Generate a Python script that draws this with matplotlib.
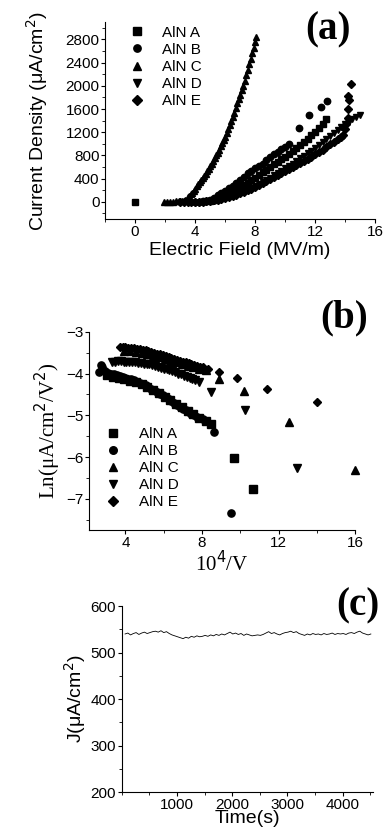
import numpy as np
import matplotlib
matplotlib.use("Agg")
import matplotlib.pyplot as plt
from matplotlib.ticker import MultipleLocator

plt.rcParams['font.family'] = ['Liberation Sans', 'DejaVu Sans']

# ---- panel (a): current density vs electric field ----
a_A_x = [0.0, 5.0, 5.25, 5.5, 5.75, 6.0, 6.25, 6.5, 6.75, 7.0, 7.25, 7.5, 7.75, 8.0, 8.25, 8.5, 8.75,
         9.0, 9.25, 9.5, 9.75, 10.0, 10.25, 10.5, 10.75, 11.0, 11.25, 11.5, 11.75, 12.0, 12.25, 12.5, 12.75]
a_A_y = [0, 20, 35, 50, 75, 100, 135, 170, 210, 250, 290, 330, 375, 420, 465, 510, 555,
         600, 645, 690, 735, 780, 830, 880, 930, 980, 1035, 1090, 1145, 1200, 1270, 1350, 1420]

a_B_x = [4.0, 4.25, 4.5, 4.75, 5.0, 5.25, 5.5, 5.75, 6.0, 6.25, 6.5, 6.75, 7.0, 7.25, 7.5, 7.75,
         8.0, 8.25, 8.5, 8.75, 9.0, 9.25, 9.5, 9.75, 10.0, 10.25, 10.9, 11.6, 12.4, 12.8]
a_B_y = [0, 3, 10, 22, 40, 70, 110, 150, 190, 235, 280, 330, 380, 435, 490, 535,
         580, 620, 660, 720, 780, 820, 860, 905, 950, 1000, 1270, 1490, 1640, 1740]

a_C_x = [1.9, 2.1, 2.3, 2.5, 2.7, 2.9, 3.1, 3.3, 3.5, 3.6, 3.7, 3.8, 3.9, 4.0, 4.1, 4.2, 4.3, 4.4,
         4.5, 4.6, 4.7, 4.8, 4.9, 5.0, 5.1, 5.2, 5.3, 5.4, 5.5, 5.6, 5.7, 5.8, 5.9, 6.0, 6.1, 6.2,
         6.3, 6.4, 6.5, 6.6, 6.7, 6.8, 6.9, 7.0, 7.1, 7.2, 7.3, 7.4, 7.5, 7.6, 7.7, 7.8, 7.9, 8.0, 8.05]
a_C_y = [0, 0, 0, 5, 8, 12, 20, 40, 80, 105, 130, 160, 195, 230, 265, 300, 335, 370,
         405, 440, 485, 530, 570, 610, 655, 700, 750, 800, 850, 900, 955, 1010, 1065, 1120, 1185, 1250,
         1320, 1390, 1465, 1540, 1620, 1700, 1775, 1850, 1925, 2000, 2090, 2180, 2275, 2370, 2465, 2560, 2650, 2760, 2840]

a_D_x = [4.5, 4.75, 5.0, 5.25, 5.5, 5.75, 6.0, 6.25, 6.5, 6.75, 7.0, 7.25, 7.5, 7.75, 8.0, 8.25,
         8.5, 8.75, 9.0, 9.25, 9.5, 9.75, 10.0, 10.25, 10.5, 10.75, 11.0, 11.25, 11.5, 11.75, 12.0,
         12.25, 12.5, 12.75, 13.0, 13.25, 13.5, 13.75, 14.0, 14.25, 14.5, 14.75, 15.0]
a_D_y = [0, 5, 10, 20, 30, 45, 60, 80, 100, 125, 150, 180, 210, 245, 280, 315,
         350, 385, 420, 460, 500, 540, 580, 620, 660, 705, 750, 795, 840, 885, 930,
         980, 1030, 1080, 1130, 1185, 1240, 1290, 1340, 1385, 1430, 1465, 1500]

a_E_x = [3.0, 3.25, 3.5, 3.75, 4.0, 4.25, 4.5, 4.75, 5.0, 5.25, 5.5, 5.75, 6.0, 6.25, 6.5, 6.75,
         7.0, 7.25, 7.5, 7.75, 8.0, 8.25, 8.5, 8.75, 9.0, 9.25, 9.5, 9.75, 10.0, 10.25, 10.5, 10.75,
         11.0, 11.25, 11.5, 11.75, 12.0, 12.25, 12.5, 12.75, 13.0, 13.25, 13.5, 13.75, 13.9,
         14.0, 14.1, 14.2, 14.2, 14.3, 14.2, 14.4]
a_E_y = [0, 0, 0, 0, 0, 2, 5, 10, 15, 25, 35, 50, 65, 80, 100, 125,
         150, 175, 200, 230, 260, 295, 330, 365, 400, 430, 460, 495, 530, 565, 600, 635,
         670, 705, 740, 780, 820, 860, 900, 945, 990, 1035, 1080, 1120, 1150,
         1250, 1350, 1450, 1600, 1750, 1820, 2030]

# ---- panel (b): Fowler-Nordheim plot ----
b_A_x = [3.05, 3.35, 3.65, 3.95, 4.25, 4.55, 4.85, 5.15, 5.45, 5.75, 6.05, 6.35, 6.65, 6.95, 7.25,
         7.55, 7.85, 8.2, 8.47, 9.65, 10.64]
b_A_y = [-4.04, -4.07, -4.1, -4.13, -4.17, -4.21, -4.26, -4.32, -4.39, -4.47, -4.55, -4.63, -4.72, -4.81, -4.9,
         -4.98, -5.06, -5.14, -5.22, -6.02, -6.76]

b_B_x = [2.6, 2.7, 2.8, 2.95, 3.1, 3.25, 3.4, 3.55, 3.7, 3.85, 4.0, 4.15, 4.3, 4.45, 4.6, 4.75, 4.9,
         5.05, 5.2, 5.35, 5.5, 5.65, 5.8, 5.95, 6.1, 6.25, 6.4, 6.55, 6.7, 6.85, 7.0, 7.15, 7.3,
         7.45, 7.6, 7.75, 7.9, 8.05, 8.6, 9.5]
b_B_y = [-3.95, -3.8, -3.85, -3.93, -3.98, -4.0, -4.02, -4.04, -4.06, -4.08, -4.1, -4.12, -4.14, -4.16, -4.19,
         -4.22, -4.25, -4.28, -4.32, -4.36, -4.4, -4.44, -4.48, -4.52, -4.56, -4.6, -4.65, -4.7, -4.75, -4.8,
         -4.84, -4.88, -4.92, -4.96, -5.0, -5.04, -5.07, -5.1, -5.39, -7.34]

b_C_x = [3.95, 4.25, 4.55, 4.85, 5.15, 5.45, 5.75, 6.05, 6.35, 6.65, 6.95, 7.25, 7.55, 7.85, 8.2,
         8.87, 10.17, 12.52, 16.0]
b_C_y = [-3.45, -3.46, -3.48, -3.5, -3.53, -3.57, -3.61, -3.65, -3.69, -3.73, -3.77, -3.81, -3.85, -3.88, -3.92,
         -4.12, -4.41, -5.15, -6.3]

b_D_x = [3.3, 3.45, 3.6, 3.75, 3.9, 4.05, 4.2, 4.35, 4.5, 4.65, 4.8, 4.95, 5.1, 5.25, 5.4, 5.55, 5.7,
         5.85, 6.0, 6.15, 6.3, 6.45, 6.6, 6.75, 6.9, 7.05, 7.2, 7.35, 7.5, 7.65, 7.86, 8.47, 10.26, 12.96]
b_D_y = [-3.72, -3.71, -3.7, -3.7, -3.71, -3.71, -3.72, -3.72, -3.73, -3.74, -3.75, -3.76, -3.77, -3.78,
         -3.8, -3.82, -3.84, -3.86, -3.88, -3.9, -3.92, -3.94, -3.97, -4.0, -4.02, -4.05, -4.08, -4.11,
         -4.14, -4.16, -4.19, -4.44, -4.87, -6.26]

b_E_x = [3.7, 3.85, 4.0, 4.15, 4.3, 4.45, 4.6, 4.75, 4.9, 5.05, 5.2, 5.35, 5.5, 5.65, 5.8, 5.95, 6.1,
         6.25, 6.4, 6.55, 6.7, 6.85, 7.0, 7.15, 7.3, 7.45, 7.6, 7.75, 7.9, 8.05, 8.3, 8.87, 9.83, 11.39, 14.0]
b_E_y = [-3.37, -3.37, -3.37, -3.38, -3.38, -3.39, -3.4, -3.41, -3.43, -3.44, -3.46, -3.48, -3.5, -3.52,
         -3.54, -3.56, -3.58, -3.6, -3.62, -3.64, -3.67, -3.69, -3.71, -3.73, -3.75, -3.77, -3.79, -3.81,
         -3.83, -3.85, -3.88, -3.97, -4.11, -4.36, -4.69]

# ---- panel (c): current density vs time ----
c_J = [540, 542, 538, 541, 543, 539, 542, 544, 541, 543, 545, 546, 544,
       547, 543, 545, 541, 538, 536, 534, 532,
       530, 533, 531, 535, 533, 536, 534, 535, 537, 535,
       538, 536, 539, 537, 540, 538, 541, 544, 540, 542,
       539, 541, 537, 540, 538, 536, 537, 538,
       537, 539, 542, 545, 541, 543, 540, 538, 541, 543,
       544, 546, 543, 545, 541, 539, 537, 540, 538, 541,
       539, 540, 538, 541, 539, 540, 542, 539, 541, 540,
       541, 539, 542, 543, 541, 544, 546, 542, 540, 538, 540]
c_t = 60 + 50 * np.arange(len(c_J))

labels = ["AlN A", "AlN B", "AlN C", "AlN D", "AlN E"]
markers = ["s", "o", "^", "v", "D"]

fig = plt.figure(figsize=(3.89, 8.36), dpi=100)


def style(ax):
    ax.spines['top'].set_visible(False)
    ax.spines['right'].set_visible(False)
    ax.tick_params(which='major', direction='out', length=3, width=0.8, labelsize=11, pad=1)
    ax.tick_params(which='minor', direction='out', length=2, width=0.6)


# (a)
ax1 = fig.add_axes([0.270, 0.7377, 0.694, 0.236])
a_sets = [(a_A_x, a_A_y), (a_B_x, a_B_y), (a_C_x, a_C_y), (a_D_x, a_D_y), (a_E_x, a_E_y)]
for (xs, ys), m, lab in zip(a_sets, markers, labels):
    ms = 4.0 if m == "D" else 4.6
    ax1.plot(xs, ys, linestyle='none', marker=m, ms=ms, color='black', label=lab)
ax1.set_xlim(-2, 16)
ax1.set_ylim(-300, 3100)
ax1.xaxis.set_major_locator(MultipleLocator(4))
ax1.xaxis.set_minor_locator(MultipleLocator(2))
ax1.yaxis.set_major_locator(MultipleLocator(400))
ax1.yaxis.set_minor_locator(MultipleLocator(200))
style(ax1)
ax1.set_xlabel("Electric Field (MV/m)", fontsize=14, labelpad=2)
ax1.set_ylabel("Current Density (\u03bcA/cm$^2$)", fontsize=14, labelpad=11)
ax1.legend(loc='upper left', bbox_to_anchor=(0.05, 1.035), frameon=False, fontsize=11,
           handlelength=1.0, handletextpad=1.15, labelspacing=0.2, borderpad=0.2,
           markerscale=1.15)
ax1.text(0.826, 0.958, "(a)", transform=ax1.transAxes, fontsize=28, fontweight='bold',
         family='Liberation Serif', ha='center', va='center')

# (b)
ax2 = fig.add_axes([0.229, 0.366, 0.684, 0.237])
b_sets = [(b_A_x, b_A_y), (b_B_x, b_B_y), (b_C_x, b_C_y), (b_D_x, b_D_y), (b_E_x, b_E_y)]
for (xs, ys), m, lab in zip(b_sets, markers, labels):
    ms = 4.5 if m == "D" else 5.2
    ax2.plot(xs, ys, linestyle='none', marker=m, ms=ms, color='black', label=lab, clip_on=False)
ax2.set_xlim(2.1, 16)
ax2.set_ylim(-7.75, -3)
ax2.xaxis.set_major_locator(MultipleLocator(4))
ax2.xaxis.set_minor_locator(MultipleLocator(2))
ax2.yaxis.set_major_locator(MultipleLocator(1))
ax2.yaxis.set_minor_locator(MultipleLocator(0.5))
style(ax2)
ax2.set_xlabel("10$^4$/V", fontsize=15, family='Liberation Serif', labelpad=1)
ax2.set_ylabel("Ln(\u03bcA/cm$^2$/V$^2$)", fontsize=15, family='Liberation Serif', labelpad=2)
ax2.legend(loc='lower left', bbox_to_anchor=(0.02, 0.05), frameon=False, fontsize=11,
           handlelength=1.0, handletextpad=1.2, labelspacing=0.2, borderpad=0.2,
           markerscale=1.05)
ax2.text(0.96, 1.07, "(b)", transform=ax2.transAxes, fontsize=28, fontweight='bold',
         family='Liberation Serif', ha='center', va='center')

# (c)
ax3 = fig.add_axes([0.313, 0.0526, 0.646, 0.2224])
ax3.plot(c_t, c_J, color='black', lw=0.6)
ax3.set_xlim(0, 4550)
ax3.set_ylim(200, 600)
ax3.xaxis.set_major_locator(MultipleLocator(1000))
ax3.xaxis.set_minor_locator(MultipleLocator(500))
ax3.yaxis.set_major_locator(MultipleLocator(100))
ax3.yaxis.set_minor_locator(MultipleLocator(50))
ax3.set_xticks([1000, 2000, 3000, 4000])
style(ax3)
ax3.set_xlabel("Time(s)", fontsize=14, labelpad=-1)
ax3.set_ylabel("J(\u03bcA/cm$^2$)", fontsize=14, labelpad=2)
ax3.text(0.94, 1.0, "(c)", transform=ax3.transAxes, fontsize=28, fontweight='bold',
         family='Liberation Serif', ha='center', va='center')

fig.savefig("out.png", dpi=100)
